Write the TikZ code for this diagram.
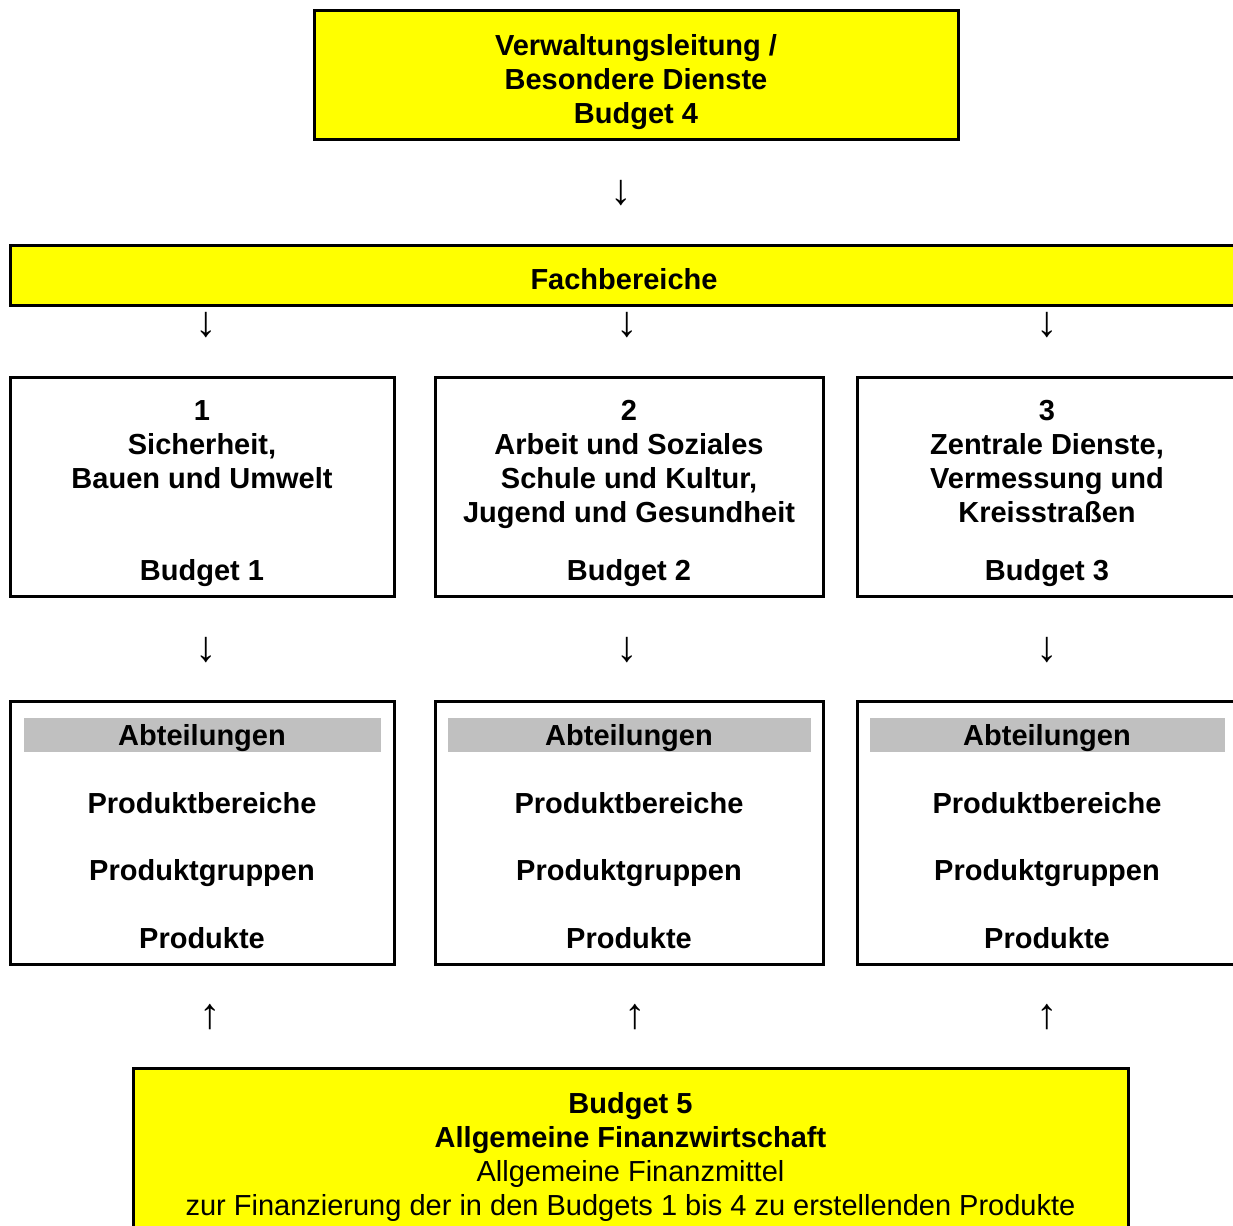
\documentclass[tikz,border=0pt]{standalone}
\usepackage{fontspec}
\setmainfont{Liberation Sans}
\definecolor{budgetyellow}{RGB}{255,255,0}
\definecolor{bargray}{RGB}{192,192,192}
\tikzset{
  box/.style={draw=black, line width=3pt, rectangle, inner sep=0pt},
  yellowbox/.style={box, fill=budgetyellow},
  graybar/.style={rectangle, fill=bargray, draw=none, inner sep=0pt},
  lbl/.style={font=\fontsize{29}{34}\selectfont\bfseries, align=center, inner sep=0pt},
  plain/.style={font=\fontsize{29}{34}\selectfont, align=center, inner sep=0pt},
  arr/.style={font=\fontsize{43}{43}\selectfont\bfseries, inner sep=0pt}
}
\begin{document}
\begin{tikzpicture}[x=1pt, y=-1pt]
    \clip (0,0) rectangle (1233,1225);

    \node[yellowbox, minimum width=644pt, minimum height=129pt] (leitung) at (636,75.5) {};
    \node[lbl] (leitungtext) at (636,82.5) {Verwaltungsleitung /\\Besondere Dienste\\Budget 4};
    \node[arr] (a0) at (621,193) {↓};

    \node[yellowbox, minimum width=1228pt, minimum height=60pt] (fach) at (624,275) {};
    \node[lbl] (fachtext) at (624,279) {Fachbereiche};
    \node[arr] (a1) at (206,325) {↓};
    \node[arr] (a2) at (627,325) {↓};
    \node[arr] (a3) at (1047,325) {↓};

    % Fachbereiche 1 bis 3
    \node[box, minimum width=384pt, minimum height=219pt] (fb1) at (202,486.5) {};
    \node[lbl] (fb1text) at (202,445) {1\\Sicherheit,\\Bauen und Umwelt};
    \node[lbl] (fb1budget) at (202,573) {Budget 1};

    \node[box, minimum width=388pt, minimum height=219pt] (fb2) at (629,486.5) {};
    \node[lbl] (fb2text) at (629,464.5) {2\\Arbeit und Soziales\\Schule und Kultur,\\Jugend und Gesundheit};
    \node[lbl] (fb2budget) at (629,573) {Budget 2};

    \node[box, minimum width=380pt, minimum height=219pt] (fb3) at (1047,486.5) {};
    \node[lbl] (fb3text) at (1047,461.5) {3\\Zentrale Dienste,\\Vermessung und\\Kreisstraßen};
    \node[lbl] (fb3budget) at (1047,573) {Budget 3};

    \node[arr] (a4) at (206,650) {↓};
    \node[arr] (a5) at (627,650) {↓};
    \node[arr] (a6) at (1047,650) {↓};

    % Abteilungen
    \node[box, minimum width=384pt, minimum height=263pt] (ab1) at (202,832.5) {};
    \node[graybar, minimum width=357pt, minimum height=34pt] (bar1) at (202.5,735) {};
    \node[lbl] (ab1a) at (202,738) {Abteilungen};
    \node[lbl] (ab1b) at (202,803) {Produktbereiche};
    \node[lbl] (ab1c) at (202,873) {Produktgruppen};
    \node[lbl] (ab1d) at (202,938) {Produkte};

    \node[box, minimum width=388pt, minimum height=263pt] (ab2) at (629,832.5) {};
    \node[graybar, minimum width=363pt, minimum height=34pt] (bar2) at (629.5,735) {};
    \node[lbl] (ab2a) at (629,738) {Abteilungen};
    \node[lbl] (ab2b) at (629,803) {Produktbereiche};
    \node[lbl] (ab2c) at (629,873) {Produktgruppen};
    \node[lbl] (ab2d) at (629,938) {Produkte};

    \node[box, minimum width=380pt, minimum height=263pt] (ab3) at (1047,832.5) {};
    \node[graybar, minimum width=355pt, minimum height=34pt] (bar3) at (1047.5,735) {};
    \node[lbl] (ab3a) at (1047,738) {Abteilungen};
    \node[lbl] (ab3b) at (1047,803) {Produktbereiche};
    \node[lbl] (ab3c) at (1047,873) {Produktgruppen};
    \node[lbl] (ab3d) at (1047,938) {Produkte};

    \node[arr] (a7) at (210,1017) {↑};
    \node[arr] (a8) at (635,1017) {↑};
    \node[arr] (a9) at (1047,1017) {↑};

    \node[yellowbox, minimum width=995pt, minimum height=172pt] (fin) at (630.5,1154) {};
    \node[plain] (fintext) at (630.5,1157) {\textbf{Budget 5}\\\textbf{Allgemeine Finanzwirtschaft}\\Allgemeine Finanzmittel\\zur Finanzierung der in den Budgets 1 bis 4 zu erstellenden Produkte};
\end{tikzpicture}
\end{document}
